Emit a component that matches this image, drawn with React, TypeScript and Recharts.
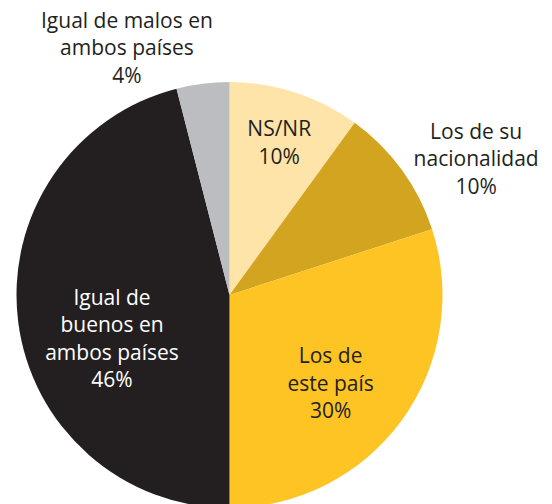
import React from "react";
import { PieChart, Pie, Cell } from "recharts";

const categories = [
  "NS/NR",
  "Los de su nacionalidad",
  "Los de este país",
  "Igual de buenos en ambos países",
  "Igual de malos en ambos países",
];
const values = [10, 10, 30, 46, 4];
const labelLines = [
  ["NS/NR", "10%"],
  ["Los de su", "nacionalidad", "10%"],
  ["Los de", "este país", "30%"],
  ["Igual de", "buenos en", "ambos países", "46%"],
  ["Igual de malos en", "ambos países", "4%"],
];

const colors = ["#FEE4A8", "#D3A41F", "#FDC424", "#231F20", "#BCBDC0"];
const textColors = ["#231F20", "#231F20", "#231F20", "#FFFFFF", "#231F20"];
// label placement: radius (px) and angle clockwise from 12 o'clock (deg)
const labelPolar = [
  [161, 18],
  [282, 61],
  [134, 131],
  [125, 250],
  [268, 337.5],
];

const data = categories.map((name, i) => ({ name, value: values[i] }));

const LINE_H = 27.5;

const renderLabel = (props: any) => {
  const { cx, cy, index } = props;
  const [r, a] = labelPolar[index];
  const rad = (a * Math.PI) / 180;
  const x = cx + r * Math.sin(rad);
  const y = cy - r * Math.cos(rad);
  const lines = labelLines[index];
  const startY = y - ((lines.length - 1) * LINE_H) / 2;
  return (
    <text
      key={`lbl-${index}`}
      x={x}
      y={startY}
      textAnchor="middle"
      dominantBaseline="central"
      fill={textColors[index]}
      fontFamily="'Open Sans', sans-serif"
      fontSize={21}
    >
      {lines.map((l, i) => (
        <tspan key={i} x={x} y={startY + i * LINE_H} dominantBaseline="central">
          {l}
        </tspan>
      ))}
    </text>
  );
};

export default function App() {
  return (
    <div style={{ position: "absolute", left: 0, top: 0, width: 552, height: 504, background: "#fff" }}>
      <PieChart width={552} height={504} margin={{ top: 0, right: 0, bottom: 0, left: 0 }}>
        <Pie
          data={data}
          dataKey="value"
          nameKey="name"
          cx={229.5}
          cy={295}
          outerRadius={213}
          startAngle={90}
          endAngle={-270}
          stroke="none"
          isAnimationActive={false}
          labelLine={false}
          label={renderLabel}
        >
          {data.map((d, i) => (
            <Cell key={d.name} fill={colors[i]} />
          ))}
        </Pie>
      </PieChart>
    </div>
  );
}
